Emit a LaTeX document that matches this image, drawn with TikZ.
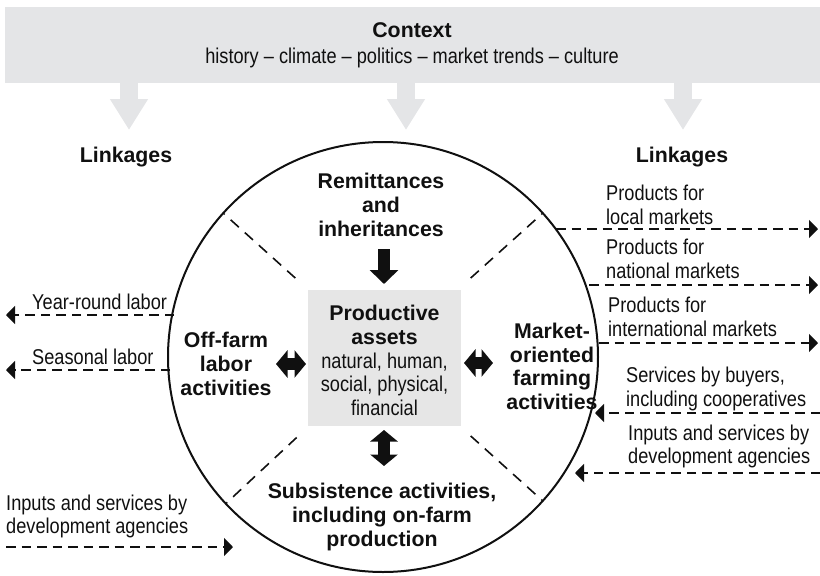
\documentclass[tikz,border=0pt]{standalone}
\usepackage{fontspec}
\setmainfont{Liberation Sans}
\newfontfamily\condfam[FakeStretch=0.85]{Liberation Sans}
\usetikzlibrary{arrows.meta,calc}
\definecolor{ctxgray}{HTML}{E4E5E7}
\definecolor{boxgray}{HTML}{E6E6E6}
\definecolor{ink}{HTML}{101010}
\newcommand\cft{\condfam\fontsize{21.4}{23.75}\selectfont}
\newcommand\bft{\normalfont\bfseries\fontsize{21.3}{23.75}\selectfont}
\begin{document}
\begin{tikzpicture}[x=1pt,y=-1pt,
  every node/.style={inner sep=0pt, text=ink},
  boldlab/.style={font=\bft, align=center},
  sidelab/.style={font=\cft, align=left, anchor=west},
  dl/.style={draw=ink, line width=1.9pt, dash pattern=on 9.5pt off 6pt},
  tipped/.style={-{Triangle[length=9pt,width=18pt]}},
  diag/.style={draw=ink, line width=1.6pt, dash pattern=on 11pt off 8pt},
  blk/.style={draw=ink, line width=12pt, -{Triangle[width=28pt,length=14pt]}},
  blkdbl/.style={draw=ink, line width=12pt, {Triangle[width=27pt,length=11.5pt]}-{Triangle[width=27pt,length=11.5pt]}},
  garrow/.style={draw=ctxgray, line width=18pt, -{Triangle[width=36pt,length=31pt]}}
]
\useasboundingbox (0,0) rectangle (820,576);

% context bar
\node[fill=ctxgray, minimum width=815pt, minimum height=76pt] (ctx) at (412.5,45) {};
\node[font=\bft] (ctxtitle) at (412,30) {Context};
\node[font=\cft] (ctxsub) at (412,58) {history – climate – politics – market trends – culture};

% gray arrows
\coordinate (g1s) at (129,80); \coordinate (g1e) at (129,130);
\coordinate (g2s) at (406,80); \coordinate (g2e) at (406,130);
\coordinate (g3s) at (683,80); \coordinate (g3e) at (683,130);
\draw[garrow] (g1s) -- (g1e);
\draw[garrow] (g2s) -- (g2e);
\draw[garrow] (g3s) -- (g3e);

% linkages
\node[font=\bft] (linkL) at (126,157) {Linkages};
\node[font=\bft] (linkR) at (682,157) {Linkages};

% circle
\node[circle, draw=ink, line width=2pt, minimum size=430pt] (C) at (383,357) {};

% diagonal dividers
\draw[diag] ($(C.center)+(222:118)$) -- ($(C.center)+(222:214)$);
\draw[diag] ($(C.center)+(318:118)$) -- ($(C.center)+(318:214)$);
\draw[diag] ($(C.center)+(137:118)$) -- ($(C.center)+(137:214)$);
\draw[diag] ($(C.center)+(42:118)$) -- ($(C.center)+(42:214)$);

% central box
\node[fill=boxgray, minimum width=153pt, minimum height=136pt] (box) at (384.5,358) {};
\node[align=center, font=\cft] (boxtxt) at (384.5,360.5)
  {\bft Productive\\\bft assets\\\cft natural, human,\\\cft social, physical,\\\cft financial};

% quadrant labels
\node[boldlab] (remit) at (381,205) {Remittances\\and\\inheritances};
\node[boldlab] (offfarm) at (226,364) {Off-farm\\labor\\activities};
\node[boldlab] (market) at (552,366.5) {Market-\\oriented\\farming\\activities};
\node[boldlab] (subsist) at (382,517) {Subsistence activities,\\including on-farm\\production};

% black arrows
\coordinate (ba1) at (384,249); \coordinate (ba2) at (384,284);
\draw[blk] (ba1) -- (ba2);
\coordinate (bl1) at (276,364); \coordinate (bl2) at (306,364);
\draw[blkdbl] (bl1) -- (bl2);
\coordinate (br1) at (464,363); \coordinate (br2) at (493,363);
\draw[blkdbl] (br1) -- (br2);
\coordinate (bb1) at (384,430); \coordinate (bb2) at (384,466);
\draw[blkdbl] (bb1) -- (bb2);

% right linkages
\node[sidelab] (rl1) at (606,205) {Products for\\local markets};
\node[sidelab] (rl2) at (606,258.5) {Products for\\national markets};
\node[sidelab] (rl3) at (608,316.5) {Products for\\international markets};
\node[sidelab] (rl4) at (626,389) {Services by buyers,\\including cooperatives};
\node[sidelab] (rl5) at (628,446.5) {Inputs and services by\\development agencies};

\coordinate (r1a) at (556,229); \coordinate (r1b) at (818,229);
\coordinate (r2a) at (589,285); \coordinate (r2b) at (818,285);
\coordinate (r3a) at (599,343); \coordinate (r3b) at (818,343);
\coordinate (r4a) at (820,413); \coordinate (r4b) at (595,413);
\coordinate (r5a) at (820,473); \coordinate (r5b) at (575,473);
\draw[dl,tipped] (r1a) -- (r1b);
\draw[dl,tipped] (r2a) -- (r2b);
\draw[dl,tipped] (r3a) -- (r3b);
\draw[dl,tipped] (r4a) -- (r4b);
\draw[dl,tipped] (r5a) -- (r5b);

% left linkages
\node[sidelab] (ll1) at (32,302) {Year-round labor};
\node[sidelab] (ll2) at (32,357) {Seasonal labor};
\node[sidelab] (ll3) at (6,516.5) {Inputs and services by\\development agencies};

\coordinate (l1a) at (174,315); \coordinate (l1b) at (6,315);
\coordinate (l2a) at (170,370); \coordinate (l2b) at (6,370);
\coordinate (l3a) at (6,547); \coordinate (l3b) at (233,547);
\draw[dl,tipped] (l1a) -- (l1b);
\draw[dl,tipped] (l2a) -- (l2b);
\draw[dl,tipped] (l3a) -- (l3b);
\end{tikzpicture}
\end{document}
